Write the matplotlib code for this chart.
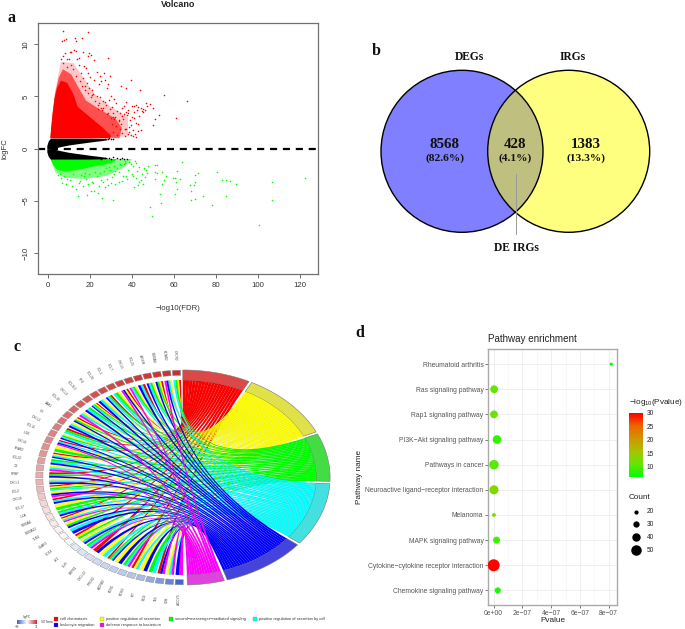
import numpy as np
import matplotlib
matplotlib.use("Agg")
import matplotlib.pyplot as plt
from matplotlib.colors import LinearSegmentedColormap, Normalize
from matplotlib.path import Path
from matplotlib.patches import PathPatch, Circle, Rectangle

W, H = 685, 629
SANS = "Liberation Sans"
SERIF = "Liberation Serif"
plt.rcParams["font.family"] = [SANS, "DejaVu Sans"]
plt.rcParams["mathtext.default"] = "regular"

# panel a, volcano
red_core_x = [1.0, 1.3, 2.0, 3.0, 4.2, 6.0, 9.0, 12.0, 14.0, 20.0, 26.0, 30.0, 29.0, 15.0, 4.0]
red_core_y = [1.0, 1.8, 3.2, 4.8, 5.8, 6.5, 6.3, 5.2, 4.0, 3.0, 2.0, 1.2, 1.0, 1.0, 1.0]
red_mid_x = [1.0, 2.0, 3.2, 5.0, 7.0, 11.0, 14.0, 18.0, 25.0, 32.0, 35.0, 34.0, 15.0, 4.0]
red_mid_y = [1.0, 3.4, 5.2, 6.8, 7.6, 7.1, 6.0, 4.6, 3.7, 2.9, 2.0, 1.0, 1.0, 1.0]
red_far_x = [1.0, 3.2, 6.0, 12.0, 16.0, 22.0, 30.0, 38.0, 38.0, 15.0, 4.0]
red_far_y = [1.0, 5.4, 8.3, 8.2, 7.0, 5.2, 4.0, 3.0, 1.2, 1.0, 1.0]
red_x = [7.2, 18.9, 6.5, 7.5, 8.5, 12.8, 13.3, 16.0, 10.5, 11.0, 12.5, 13.3, 8.0, 16.5, 19.5, 20.5, 7.0, 6.0, 9.0,
         10.0, 13.5, 14.5, 19.0, 22.0, 28.5, 7.2, 11.0, 14.5, 17.0, 18.0, 9.0, 23.0, 26.5, 24.5, 29.5, 19.0, 20.0,
         16.5, 22.0, 25.0, 27.0, 39.5, 24.0, 28.5, 34.5, 37.0, 28.0, 21.0, 17.5, 19.0, 43.8, 55.2, 66.0, 23.0, 24.5,
         29.0, 30.0, 31.5, 27.0, 37.0, 36.0, 35.0, 38.0, 40.0, 41.0, 42.0, 43.0, 44.0, 45.0, 46.0, 47.0, 46.5, 44.5,
         42.5, 41.0, 38.0, 37.0, 36.0, 35.0, 37.5, 40.0, 41.0, 39.0, 42.0, 43.0, 44.0, 43.0, 42.0, 48.5, 50.0, 53.0,
         51.0, 50.0, 60.8, 45.0, 43.5, 39.5, 38.5, 37.2, 34.0, 33.0, 32.0, 31.0, 30.0, 33.5, 32.5, 31.5, 30.5, 29.5,
         35.5, 34.5, 38.5, 40.5, 41.5, 36.5, 35.0, 33.0, 31.0, 29.0, 27.5, 26.0, 25.0, 24.0, 23.5, 25.5, 28.0, 30.5,
         32.5, 34.0, 36.5, 38.0, 39.5, 40.5, 21.5, 22.5, 20.5, 18.5, 16.0, 15.0, 13.0, 12.0, 15.5, 17.5, 19.5, 21.0,
         23.5, 26.0, 28.5, 31.0, 33.5]
red_y = [11.25, 11.15, 10.3, 10.4, 10.45, 10.55, 10.35, 10.55, 9.3, 9.25, 9.4, 9.35, 9.15, 9.25, 9.2, 9.0, 8.9, 8.55,
         8.55, 8.6, 8.6, 8.7, 8.85, 8.5, 8.65, 8.2, 8.0, 8.0, 7.9, 7.7, 7.8, 7.3, 7.2, 7.0, 6.95, 7.2, 6.9, 6.8, 6.6,
         6.5, 6.6, 6.6, 6.2, 6.2, 5.95, 5.8, 5.85, 5.6, 5.6, 5.3, 5.6, 5.1, 4.55, 5.0, 4.9, 4.7, 5.0, 4.8, 4.5, 4.5,
         4.1, 3.9, 3.7, 4.1, 4.1, 4.2, 4.0, 3.9, 3.8, 3.7, 4.1, 4.4, 3.6, 3.7, 3.5, 3.4, 3.5, 3.3, 3.1, 3.2, 3.0, 2.9,
         2.7, 2.5, 2.4, 1.8, 1.7, 1.15, 4.3, 3.9, 3.2, 2.8, 2.3, 2.95, 3.5, 3.1, 2.3, 2.1, 1.9, 3.4, 3.6, 3.0, 3.4, 2.9,
         2.6, 2.2, 2.8, 2.4, 3.8, 2.8, 2.4, 1.6, 1.8, 1.4, 1.9, 1.5, 1.3, 1.6, 1.4, 4.2, 4.6, 3.9, 4.4, 3.8, 3.7, 3.3,
         4.0, 4.4, 1.9, 1.2, 1.4, 1.3, 1.25, 5.2, 4.6, 4.9, 6.3, 6.0, 6.5, 7.0, 7.6, 7.2, 6.0, 5.8, 5.1, 4.2, 3.9, 3.4,
         3.0, 2.7]

# black wedge, two arms and a tail of single points
black_x = [-0.7, 0.0, 1.0, 3.0, 6.0, 10.0, 15.0, 20.0, 25.0, 28.0]
black_low = [0.0, 0.0, 0.0, 0.06, 0.2, 0.36, 0.5, 0.64, 0.76, 0.85]
black_high = [0.3, 0.75, 1.0, 1.0, 1.0, 1.0, 1.0, 1.0, 0.98, 0.95]
black_tail_x = [27.0, 28.5, 30.0, 31.0, 29.0, 25.0, 27.0, 29.0, 30.0, 31.0, 33.0, 34.0, 35.0, 36.0, 37.5]
black_tail_y = [0.92, 0.88, 0.95, 0.9, 0.98, -0.95, -0.85, -0.85, -0.95, -0.8, -0.9, -0.95, -0.9, -0.98, -0.95]

# green arm
green_core_x = [1.2, 33.0, 30.0, 22.0, 15.0, 8.0, 4.0, 2.5, 1.5]
green_core_y = [-1.0, -1.0, -1.4, -1.7, -2.0, -2.2, -2.0, -1.6, -1.2]
green_haze_x = [1.2, 40.0, 36.0, 28.0, 18.0, 8.0, 3.5, 2.0]
green_haze_y = [-1.0, -1.0, -1.8, -2.6, -2.9, -2.8, -2.3, -1.5]
green_x = [122.4, 106.5, 106.7, 100.5, 89.5, 86.6, 85.0, 82.7, 80.3, 85.0, 77.9, 73.9, 71.4, 70.1, 70.0, 69.5, 67.6,
           68.2, 67.9, 69.8, 63.6, 61.2, 62.8, 59.3, 60.4, 60.9, 61.5, 60.4, 56.1, 55.3, 54.0, 53.3, 53.7, 48.5, 49.4,
           52.0, 50.9, 54.4, 52.0, 51.0, 51.0, 31.0, 25.5, 22.0, 23.5, 20.5, 18.5, 14.0, 13.2, 47.5, 46.5, 45.5, 44.5,
           43.5, 42.5, 41.5, 42.0, 40.5, 39.5, 38.5, 44.0, 46.0, 47.0, 45.0, 43.0, 41.0, 42.0, 40.0, 38.0, 36.0, 37.0,
           35.0, 33.5, 32.0, 30.5, 28.5, 27.0, 26.0, 36.5, 34.5, 33.0, 31.5, 30.0, 28.0, 25.0, 23.0, 21.0, 19.0, 17.0,
           15.0, 12.0, 10.5, 6.5, 6.0, 5.5, 4.5, 7.5, 9.0, 15.5, 17.5, 19.5, 22.5, 24.5, 26.5, 29.0, 31.5, 34.0, 36.5,
           38.5, 40.5, 43.5, 37.5, 35.5, 33.5, 24.0, 21.5, 18.0, 14.5, 16.5, 11.5, 8.5, 32.0, 29.5, 27.5]
green_y = [-2.8, -3.2, -4.9, -7.3, -3.4, -3.05, -3.0, -3.0, -2.2, -4.5, -5.4, -4.5, -2.35, -2.5, -3.2, -3.45, -3.5,
           -4.1, -4.9, -4.85, -1.25, -2.15, -2.9, -2.8, -2.8, -3.2, -3.9, -4.3, -2.65, -3.0, -3.35, -4.3, -5.2, -5.6,
           -6.45, -1.6, -1.6, -2.25, -2.35, -2.9, -2.25, -4.9, -4.75, -4.1, -4.2, -4.1, -4.45, -4.5, -3.9, -1.7, -2.0,
           -1.9, -2.4, -1.8, -2.1, -1.2, -1.4, -1.7, -1.5, -1.3, -3.0, -2.7, -2.3, -3.4, -3.5, -3.7, -2.8, -2.4, -2.0,
           -1.5, -2.6, -3.1, -2.2, -3.4, -2.7, -3.5, -3.7, -3.2, -1.2, -1.6, -1.9, -2.4, -3.3, -2.9, -3.0, -2.6, -3.2,
           -3.4, -2.6, -3.1, -2.4, -3.0, -3.3, -2.8, -2.4, -2.5, -2.6, -2.9, -2.5, -2.3, -2.4, -2.2, -2.3, -2.1, -1.8,
           -1.7, -1.5, -1.4, -1.3, -2.6, -3.2, -2.95, -2.6, -3.15, -3.6, -3.3, -2.9, -3.3, -3.6, -3.55, -3.4, -2.1, -2.0,
           -1.9]

# panel b, venn
venn_names = ["DEGs", "IRGs"]
venn_counts = [8568, 428, 1383]
venn_pct = ["(82.6%)", "(4.1%)", "(13.3%)"]

# panel c, chord
term_names = ["cell chemotaxis", "positive regulation of secretion", "second\u2212messenger\u2212mediated signaling",
              "positive regulation of secretion by cell", "leukocyte migration", "defense response to bacterium"]
term_keys = "rygcbm"
term_colors = ["#ff0000", "#ffff00", "#00ff00", "#00ffff", "#0000ff", "#ff00ff"]
term_bands = ["#dc4848", "#e0e048", "#44dc44", "#44e0e0", "#4444dc", "#dc44dc"]
term_edges = [90.0, 62.7, 24.5, -2.7, -38.2, -73.0, -88.8]
gene_names = ["CXCR2", "HCAR2", "S100A9", "AGER", "CCL21", "CXCL5", "CCL7", "XCL1", "CCL20", "PF4", "CCL3L3", "CXCL3",
              "CCL19", "SAA1", "IL6", "CXCL2", "CCL11", "IL1B", "CXCL6", "FFAR2", "CCL22", "C3", "PPBP", "CXCL1",
              "CCL2", "CXCL8", "CCL17", "IL1A", "S100A8", "S100A12", "TLR4", "C5AR1", "CD14", "LYZ", "SLPI", "DEFB1",
              "CXCL12", "PTGS2", "ADRB2", "EDN1", "NOS3", "KIT", "GCG", "INS", "F2R", "ADCY5"]
gene_fc = [3.0, 2.9, 2.9, 2.8, 2.8, 2.7, 2.7, 2.6, 2.6, 2.5, 2.4, 2.3, 2.2, 2.1, 2.0, 1.9, 1.8, 1.7, 1.6, 1.5, 1.4,
           1.3, 1.2, 1.1, 1.0, 0.8, 0.6, 0.5, 0.4, 0.3, 0.2, 0.1, 0.0, -0.4, -0.5, -0.6, -0.7, -0.8, -0.9, -1.0, -1.1,
           -1.3, -1.6, -1.9, -2.3, -2.9]
gene_terms = ["rygc", "ycbm", "rygb", "ygcb", "rcb", "ygcm", "rybm", "ygc", "rgcb", "ycb",
              "rygcb", "gcb", "ycm", "rygb", "ycb", "rgc", "ygcb", "rcbm", "yg", "rycb",
              "gcb", "ycm", "rgb", "ycb", "rygc", "ybm", "rcb", "yg", "gcb", "rycm",
              "ygb", "cb", "ryg", "ycb", "gcm", "rb", "yc", "rgcb", "yb", "gcm",
              "ryc", "yb", "gc", "rbm", "ycm", "bm"]

# panel d, enrichment
pathways = ["Chemokine signaling pathway", "Cytokine\u2212cytokine receptor interaction", "MAPK signaling pathway",
            "Melanoma", "Neuroactive ligand\u2212receptor interaction", "Pathways in cancer",
            "PI3K\u2212Akt signaling pathway", "Rap1 signaling pathway", "Ras signaling pathway", "Rheumatoid arthritis"]
pvalue = [0.28e-7, 0.0, 0.2e-7, 0.02e-7, 0.02e-7, 0.02e-7, 0.23e-7, 0.02e-7, 0.03e-7, 8.18e-7]
count = [29, 57, 33, 18, 43, 45, 41, 37, 37, 15]
minus_log_p = [7.5, 30.0, 9.0, 11.5, 13.0, 10.5, 8.5, 11.5, 11.0, 6.2]
p_ticks = [0, 2e-7, 4e-7, 6e-7, 8e-7]
p_labels = ["0e+00", "2e\u221207", "4e\u221207", "6e\u221207", "8e\u221207"]
count_legend = [20, 30, 40, 50]
cbar_ticks = [10, 15, 20, 25, 30]


def px_axes(left, top, right, bottom):
    return fig.add_axes([left / W, 1 - bottom / H, (right - left) / W, (bottom - top) / H])


def pt(t, r):
    a = np.radians(t)
    return [r * np.cos(a), r * np.sin(a)]


def wedge(ax, t1, t2, r1, r2, color, edge="#777777", lw=0.4):
    ts = np.linspace(t1, t2, 30)
    outer = [pt(t, r2) for t in ts]
    inner = [pt(t, r1) for t in ts[::-1]]
    ax.fill(*zip(*(outer + inner)), facecolor=color, edgecolor=edge, linewidth=lw)


def dot_size(c):
    return ((4.2 + (c - 20) * 0.21) * 0.72) ** 2


fig = plt.figure(figsize=(W / 100, H / 100), dpi=100)

# a
ax = px_axes(37.7, 23.3, 317.7, 274)
ax.fill(red_far_x, red_far_y, color="#ff0000", alpha=0.22, lw=0)
ax.fill(red_mid_x, red_mid_y, color="#ff0000", alpha=0.6, lw=0)
ax.fill(red_core_x, red_core_y, color="#ff0000", lw=0)
ax.fill(green_haze_x, green_haze_y, color="#00ff00", alpha=0.5, lw=0)
ax.fill(green_core_x, green_core_y, color="#00ff00", lw=0)
ax.scatter(red_x, red_y, s=1.3, color="#ff0000", linewidths=0)
ax.scatter(green_x, green_y, s=1.3, color="#00ff00", linewidths=0)
ax.fill_between(black_x, black_low, black_high, color="black", lw=0)
ax.fill_between(black_x, -np.array(black_low), -np.array(black_high), color="black", lw=0)
ax.scatter(black_tail_x, black_tail_y, s=1.3, color="black", linewidths=0)
ax.axhline(0, color="black", lw=1.6, dashes=(3.2, 2.6))
ax.set_xlim(-5.05, 128.5)
ax.set_ylim(-12, 12)
ax.set_xticks(range(0, 121, 20))
ax.set_yticks([-10, -5, 0, 5, 10])
ax.set_yticklabels(["\u221210", "\u22125", "0", "5", "10"], rotation=90, va="center")
ax.tick_params(labelsize=5.6, length=3, width=0.6, color="#555555", labelcolor="#333333", pad=3)
for s in ax.spines.values():
    s.set_color("#707070")
    s.set_linewidth(0.9)

# d
ax = px_axes(488.3, 349, 617.3, 605)
cmap_p = LinearSegmentedColormap.from_list("p", ["#00ff00", "#66e600", "#a8c400", "#d09600", "#ee6600", "#ff0000"])
norm_p = Normalize(6.25, 30)
ypos = np.arange(1, len(pathways) + 1)
sizes = [dot_size(c) for c in count]
ax.set_axisbelow(True)
ax.grid(True, color="#ececec", lw=0.6)
ax.set_xticks([1e-7, 3e-7, 5e-7, 7e-7], minor=True)
ax.grid(True, which="minor", axis="x", color="#f3f3f3", lw=0.4)
ax.scatter(pvalue, ypos, s=sizes, c=minus_log_p, cmap=cmap_p, norm=norm_p, linewidths=0, zorder=3)
ax.set_xlim(-0.376e-7, 8.6e-7)
ax.set_ylim(0.42, 10.6)
ax.set_xticks(p_ticks)
ax.set_xticklabels(p_labels)
ax.set_yticks(ypos)
ax.set_yticklabels(pathways)
ax.tick_params(axis="both", which="major", labelsize=4.85, length=2, width=0.5, color="#444444", labelcolor="#555555", pad=1.5)
ax.tick_params(axis="x", which="minor", length=0)
for s in ax.spines.values():
    s.set_color("#aaaaaa")
    s.set_linewidth(1.0)

cax = px_axes(629.3, 412.7, 642.7, 476.7)
grad = np.linspace(30, 6.25, 200).reshape(-1, 1)
cax.imshow(grad, aspect="auto", cmap=cmap_p, norm=norm_p, extent=[0, 1, 6.25, 30])
cax.set_xticks([])
cax.yaxis.tick_right()
cax.set_yticks(cbar_ticks)
cax.tick_params(axis="y", labelsize=4.7, length=0, pad=3, labelcolor="#222222")
for s in cax.spines.values():
    s.set_visible(False)

# c
cx, cy, rx, ry = 182.8, 477.5, 147.3, 107.5
ax = px_axes(cx - 1.24 * rx, cy - 1.38 * ry, cx + 1.24 * rx, cy + 1.38 * ry)
ax.set_xlim(-1.24, 1.24)
ax.set_ylim(-1.38, 1.38)
ax.axis("off")
cmap_fc = LinearSegmentedColormap.from_list("fc", ["#3d60c8", "#ffffff", "#c83030"])
norm_fc = Normalize(-3, 3)
n_genes = len(gene_names)
step = 180.0 / n_genes
ribbon_counts = [sum(k in g for g in gene_terms) for k in term_keys]
for i, name in enumerate(gene_names):
    t1 = 90.6 + i * step + 0.3
    t2 = t1 + step - 0.7
    wedge(ax, t1, t2, 0.95, 0.998, cmap_fc(norm_fc(gene_fc[i])), edge="#8a8a8a", lw=0.3)
    tm = (t1 + t2) / 2
    x, y = pt(tm, 1.14)
    rot = tm - 180
    ax.text(x, y, name, fontsize=2.3, rotation=rot, rotation_mode="anchor", ha="center", va="center", color="#444444")

ribbons = [[] for _ in range(6)]
for i, terms in enumerate(gene_terms):
    t1 = 90.6 + i * step + 0.2
    width = (step - 0.7) / len(terms)
    for j, key in enumerate(terms):
        k = term_keys.index(key)
        hi = t1 + j * width
        ribbons[k].append((hi, hi + width))

for k in range(6):
    start = term_edges[k] - (0.6 if k else 0.0)
    end = term_edges[k + 1] + 0.6
    wedge(ax, start, end, 0.905, 1.0, term_bands[k])
    w = (start - end) / ribbon_counts[k]
    for m, (g1, g2) in enumerate(ribbons[k]):
        b1 = start - m * w
        b2 = b1 - w
        verts = [pt(g1, 0.907), (0, 0), pt(b1, 0.905)]
        codes = [Path.MOVETO, Path.CURVE3, Path.CURVE3]
        verts += [pt(b, 0.905) for b in np.linspace(b1, b2, 4)[1:]]
        codes += [Path.LINETO] * 3
        verts += [(0, 0), pt(g2, 0.907)]
        codes += [Path.CURVE3, Path.CURVE3]
        verts += [pt(g1, 0.907), pt(g1, 0.907)]
        codes += [Path.LINETO, Path.CLOSEPOLY]
        ax.add_patch(PathPatch(Path(verts, codes), facecolor=term_colors[k], edgecolor="#00000033", lw=0.12))

# overlay in pixels for the venn and all loose text
ov = fig.add_axes([0, 0, 1, 1], facecolor="none")
ov.set_xlim(0, W)
ov.set_ylim(H, 0)
ov.axis("off")

left = Circle((462, 151.3), 81, facecolor="#7f7fff", edgecolor="none")
right = Circle((568.7, 151.3), 81, facecolor="#ffff7f", edgecolor="none")
ov.add_patch(left)
ov.add_patch(right)
both = Circle((568.7, 151.3), 81, facecolor="#bfbf7f", edgecolor="none")
ov.add_patch(both)
both.set_clip_path(Circle((462, 151.3), 81, transform=ov.transData))
ov.add_patch(Circle((462, 151.3), 81, fill=False, edgecolor="black", lw=1.0))
ov.add_patch(Circle((568.7, 151.3), 81, fill=False, edgecolor="black", lw=1.0))
ov.plot([516, 516], [174, 234], color="#999999", lw=0.7)

serif = dict(family=SERIF, fontweight="bold", ha="center", va="center", color="#111111")
for x, t in zip([469, 572.7], venn_names):
    ov.text(x, 57, t, fontsize=8.3, **serif)
for x, c, p in zip([444.7, 515, 586], venn_counts, venn_pct):
    ov.text(x, 144.5, str(c), fontsize=10.8, **serif)
    ov.text(x, 158, p, fontsize=8.2, **serif)
ov.text(516, 248.3, "DE IRGs", fontsize=8.3, **serif)
for x, y, t in [(12, 18, "a"), (376, 50.7, "b"), (16.7, 346.7, "c"), (360, 333, "d")]:
    ov.text(x, y, t, fontsize=11.5, **serif)

ov.text(178, 4.5, "Volcano", fontsize=6.5, fontweight="bold", ha="center", va="center", color="#222222")
ov.text(178, 308, "\u2212log10(FDR)", fontsize=5.6, ha="center", va="center", color="#333333")
ov.text(5, 149, "logFC", fontsize=5.6, rotation=90, ha="center", va="center", color="#333333")

ov.text(488.3, 339.3, "Pathway enrichment", fontsize=7.1, ha="left", va="center", color="#222222")
ov.text(360, 476.7, "Pathway name", fontsize=5.9, rotation=90, ha="center", va="center", color="#222222")
ov.text(552.7, 620, "Pvalue", fontsize=5.9, ha="center", va="center", color="#222222")
ov.text(629, 402.7, "\u2212log$_{10}$(Pvalue)", fontsize=5.9, ha="left", va="center", color="#222222")
ov.text(629, 497.3, "Count", fontsize=5.9, ha="left", va="center", color="#222222")
for y, c in zip([511.7, 524.3, 537.3, 550], count_legend):
    ov.scatter([636], [y], s=dot_size(c), color="black", linewidths=0)
    ov.text(646.7, y, str(c), fontsize=4.7, ha="left", va="center", color="#222222")

# chord legend
grad_fc = np.linspace(-3, 3, 100).reshape(1, -1)
lax = px_axes(16.7, 620, 36, 624)
lax.imshow(grad_fc, aspect="auto", cmap=cmap_fc, norm=norm_fc)
lax.axis("off")
ov.text(26.7, 616.8, "logFC", fontsize=2.2, ha="center", va="center", color="#333333")
ov.text(16.7, 626.8, "\u22123", fontsize=2.8, ha="center", va="center", color="#333333")
ov.text(36, 626.8, "3", fontsize=2.8, ha="center", va="center", color="#333333")
ov.text(46.7, 621.7, "GO Terms", fontsize=1.9, ha="center", va="center", color="#333333")
key_pos = [(56, 618.7), (102.3, 618.7), (171, 618.7), (255, 618.7), (56, 624.7), (102.3, 624.7)]
for k, (x, y) in enumerate(key_pos):
    ov.add_patch(Rectangle((x - 2, y - 2), 4, 4, facecolor=term_colors[k], edgecolor="#777777", lw=0.2))
    ov.text(x + 4, y, term_names[k], fontsize=2.85, ha="left", va="center", color="#333333")

fig.savefig("out.png", dpi=100)
